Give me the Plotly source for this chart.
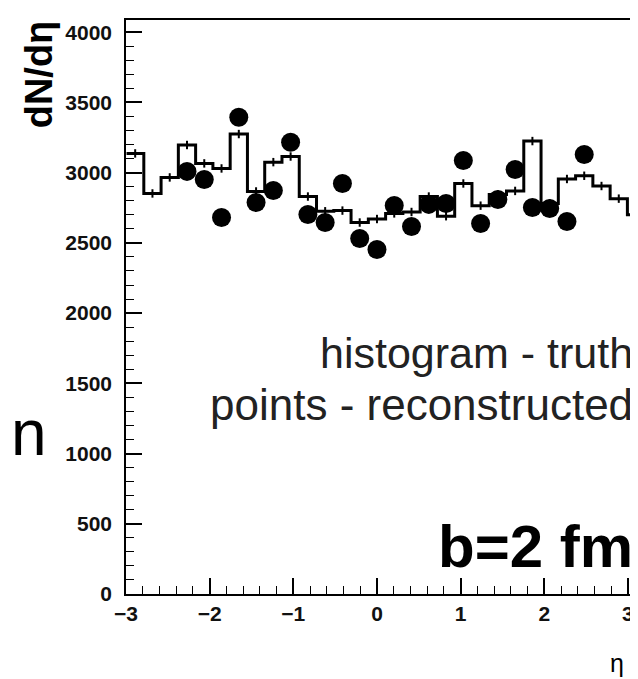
import numpy as np
import plotly.graph_objects as go

# ---- data ----
eta_min, eta_max, n_bins = -3.2, 3.2, 31
# truth histogram contents for bins index 1..30 (bin 0 lies outside the frame)
truth_counts = [3137, 2852, 2966, 3197, 3066, 3030, 3275, 2866, 3075, 3115,
                2830, 2725, 2730, 2645, 2670, 2710, 2720, 2830, 2690, 2923,
                2765, 2845, 2870, 3225, 2780, 2955, 2978, 2905, 2815, 2700]
truth_errors = [30, 30, 30, 30, 30, 30, 30, 30, 30, 30,
                30, 30, 30, 30, 30, 30, 30, 30, 30, 30,
                30, 30, 30, 30, 30, 30, 30, 30, 30, 30]
# reconstructed points for bins index 4..27
reco_counts = [3009, 2952, 2681, 3394, 2788, 2873, 3216, 2702, 2645, 2923,
               2531, 2453, 2766, 2617, 2774, 2781, 3087, 2638, 2809, 3023,
               2752, 2745, 2652, 3130]
x_tick_vals = [-3, -2, -1, 0, 1, 2, 3]
y_tick_vals = [0, 500, 1000, 1500, 2000, 2500, 3000, 3500, 4000]

# ---- derived bin geometry ----
edges = np.linspace(eta_min, eta_max, n_bins + 1)
centers = 0.5 * (edges[:-1] + edges[1:])
h_first = 1
h_edges = edges[h_first:h_first + len(truth_counts) + 1]
h_centers = centers[h_first:h_first + len(truth_counts)]
step_x = list(h_edges)
step_y = list(truth_counts) + [truth_counts[-1]]
r_first = 4
reco_eta = centers[r_first:r_first + len(reco_counts)]

W, H = 638, 679
L, R, T, B = 118, 1, 12, 93

fig = go.Figure()
fig.add_trace(go.Scatter(x=step_x, y=step_y, mode="lines", line_shape="hv",
                         line=dict(color="black", width=3), hoverinfo="skip",
                         showlegend=False))
fig.add_trace(go.Scatter(x=h_centers, y=truth_counts, mode="markers",
                         marker=dict(size=1, color="black"),
                         error_y=dict(type="data", array=truth_errors, visible=True,
                                      color="black", thickness=2, width=0),
                         showlegend=False))
fig.add_trace(go.Scatter(x=reco_eta, y=reco_counts, mode="markers",
                         marker=dict(size=19, color="black", line=dict(width=0)),
                         showlegend=False))

ph = H - T - B
pw = W - L - R
def px(x):
    return (x - L) / pw
def py(y):
    return (H - B - y) / ph

tickfont = dict(family="Liberation Sans, Arial", size=21, color="#111111", weight="bold")
fig.update_xaxes(range=[-3, 3.18], tickvals=x_tick_vals, ticks="inside", ticklen=16,
                 tickwidth=1.5, tickcolor="black", showline=True, linecolor="black",
                 linewidth=1.5, mirror=True, showgrid=False, zeroline=False,
                 minor=dict(dtick=0.2, ticks="inside", ticklen=8, tickwidth=1,
                            tickcolor="black", showgrid=False),
                 tickfont=tickfont)
fig.update_yaxes(range=[0, 4087], tickvals=y_tick_vals, ticks="inside", ticklen=16,
                 tickwidth=1.5, tickcolor="black", showline=True, linecolor="black",
                 linewidth=1.5, mirror=True, showgrid=False, zeroline=False,
                 minor=dict(dtick=100, ticks="inside", ticklen=8, tickwidth=1,
                            tickcolor="black", showgrid=False),
                 tickfont=tickfont, ticklabelstandoff=8)

ann = []
ann.append(dict(text="histogram - truth", x=px(629), y=py(345), xref="paper", yref="paper",
                xanchor="right", yanchor="middle", showarrow=False,
                font=dict(family="Liberation Sans, Arial", size=43, color="#222222")))
ann.append(dict(text="points - reconstructed", x=px(629), y=py(396), xref="paper", yref="paper",
                xanchor="right", yanchor="middle", showarrow=False,
                font=dict(family="Liberation Sans, Arial", size=44, color="#222222")))
ann.append(dict(text="<b>b=2 fm</b>", x=px(629), y=py(538), xref="paper", yref="paper",
                xanchor="right", yanchor="middle", showarrow=False,
                font=dict(family="Liberation Sans, Arial", size=60, color="black")))
ann.append(dict(text="n", x=px(1), y=py(425), xref="paper", yref="paper",
                xanchor="left", yanchor="middle", showarrow=False,
                font=dict(family="Liberation Sans, Arial", size=64, color="black")))
ann.append(dict(text="η", x=px(620), y=py(655), xref="paper", yref="paper",
                xanchor="right", yanchor="middle", showarrow=False,
                font=dict(family="Liberation Sans, Arial", size=25, color="black")))
ann.append(dict(text="<b>dN/dη</b>", x=px(31), y=py(66), xref="paper", yref="paper",
                xanchor="center", yanchor="middle", showarrow=False, textangle=-90,
                font=dict(family="Liberation Sans, Arial", size=38, color="black")))

fig.update_layout(width=W, height=H, margin=dict(l=L, r=R, t=T, b=B),
                  paper_bgcolor="white", plot_bgcolor="white",
                  annotations=ann, showlegend=False)
fig.write_html("out.html")
